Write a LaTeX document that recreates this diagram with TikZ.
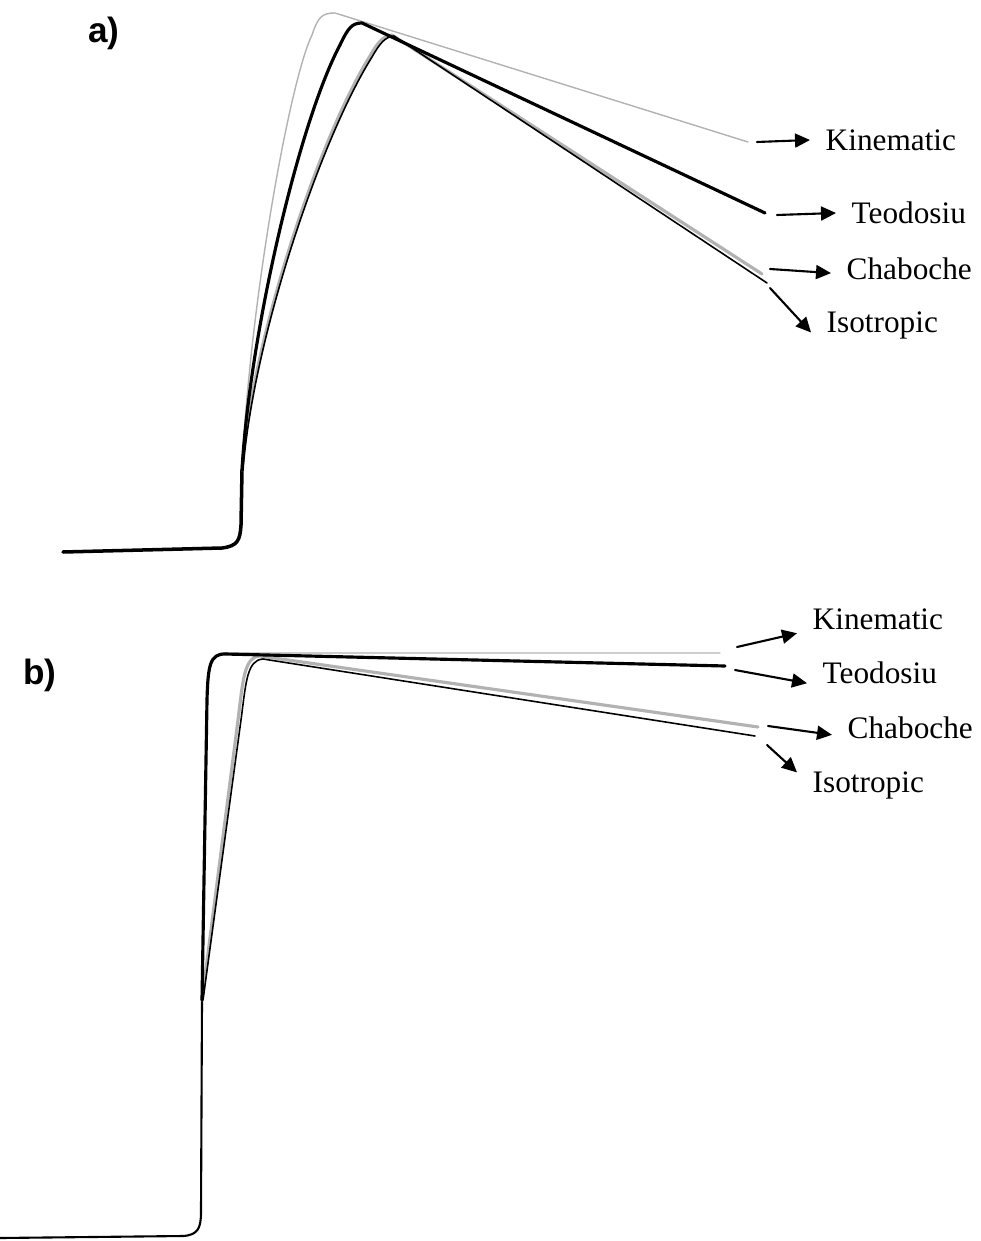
\documentclass[tikz,border=0pt]{standalone}
\usepackage{fontspec}
\setmainfont{Liberation Serif}
\newfontfamily\panelfont{Liberation Sans}
\usetikzlibrary{arrows.meta}
\tikzset{>={Triangle[length=1.5mm,width=1.4mm]}}
\tikzset{
  kinematic/.style={gray!60, line width=0.4pt},
  teodosiu/.style={black, line width=0.9pt},
  chaboche/.style={gray!60, line width=0.9pt},
  isotropic/.style={black, line width=0.45pt},
  base/.style={black, line width=1pt},
  lbl/.style={font=\fontsize{8.9}{10}\selectfont, inner sep=1.5mm, anchor=west},
  panel/.style={font=\panelfont\bfseries\fontsize{10}{12}\selectfont, inner sep=0pt},
  pointer/.style={->, line width=0.6pt}
}

\begin{document}
\begin{tikzpicture}[x=0.1mm, y=-0.1mm, line cap=round, line join=round]
\useasboundingbox (0,0) rectangle (980,1241);

% panel a)
\node[panel] (pa) at (104,33) {a)};
\draw[base] (63,552) -- (222,548) .. controls (238,546) and (240,540) .. (241,525) -- (242,470);
\draw[kinematic] (242,470) .. controls (250,300) and (290,80) .. (312,35)
  .. controls (318,17) and (322,13) .. (335,13) -- (748,142);
\draw[chaboche] (242,470) .. controls (252,340) and (318,140) .. (370,56)
  .. controls (378,42) and (383,36) .. (392,35) -- (762,274);
\draw[isotropic] (243,470) .. controls (253,340) and (320,140) .. (372,57)
  .. controls (380,43) and (385,37) .. (394,36) -- (767,283);
\draw[teodosiu] (242,470) .. controls (250,330) and (300,120) .. (340,45)
  .. controls (348,28) and (352,23) .. (362,23) -- (765,213);

\node[lbl] (kinA) at (810,140) {Kinematic};
\node[lbl] (teoA) at (836,213) {Teodosiu};
\node[lbl] (chaA) at (831,269) {Chaboche};
\node[lbl] (isoA) at (811,325) {Isotropic};
\coordinate (kinAs) at (757,142);
\coordinate (teoAs) at (777,215);
\coordinate (chaAs) at (770,269);
\coordinate (isoAs) at (770,288);
\draw[pointer] (kinAs) -- (kinA.west);
\draw[pointer] (teoAs) -- (teoA.west);
\draw[pointer] (chaAs) -- (chaA.183);
\draw[pointer] (isoAs) -- (isoA.186);

% panel b)
\node[panel] (pb) at (40,675) {b)};
\draw[base, line width=0.6pt] (0,1238) -- (183,1236) .. controls (198,1235) and (201,1228) .. (201,1212) -- (202,1000);
\draw[kinematic] (202,1000) -- (207,700) .. controls (208,665) and (210,653) .. (225,653) -- (720,653);
\draw[chaboche] (202,1000) -- (238,720) .. controls (243,680) and (244,657) .. (260,656) -- (758,727);
\draw[isotropic] (203,1000) -- (241,720) .. controls (246,682) and (247,660) .. (263,659) -- (755,736);
\draw[teodosiu] (202,1000) -- (207,700) .. controls (208,665) and (210,654) .. (225,654) -- (725,666);

\node[lbl] (kinB) at (797,619) {Kinematic};
\node[lbl] (teoB) at (807,673) {Teodosiu};
\node[lbl] (chaB) at (832,728) {Chaboche};
\node[lbl] (isoB) at (797,785) {Isotropic};
\coordinate (kinBs) at (737,647);
\coordinate (teoBs) at (735,670);
\coordinate (chaBs) at (768,726);
\coordinate (isoBs) at (767,745);
\draw[pointer] (kinBs) -- (kinB.190);
\draw[pointer] (teoBs) -- (teoB.188);
\draw[pointer] (chaBs) -- (chaB.185);
\draw[pointer] (isoBs) -- (isoB.170);
\end{tikzpicture}
\end{document}
